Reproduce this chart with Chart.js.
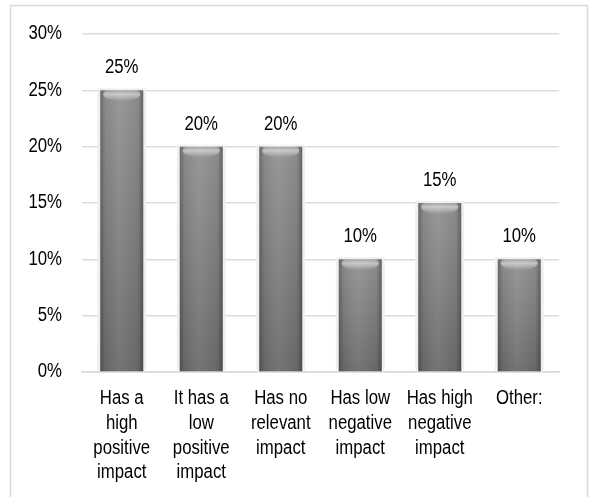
<!DOCTYPE html>
<html>
<head>
<meta charset="utf-8">
<script src="https://cdn.jsdelivr.net/npm/chart.js@4.4.1/dist/chart.umd.min.js"></script>
<style>
  html, body { margin: 0; padding: 0; background: #ffffff; overflow: hidden; }
  #wrap { position: relative; width: 590px; height: 497px; }
  canvas { position: absolute; left: 0; top: 0; }
</style>
</head>
<body>
<div id="wrap"><canvas id="c" width="590" height="497"></canvas></div>
<script>
const categories = [
  ["Has a", "high", "positive", "impact"],
  ["It has a", "low", "positive", "impact"],
  ["Has no", "relevant", "impact"],
  ["Has low", "negative", "impact"],
  ["Has high", "negative", "impact"],
  ["Other:"]
];
const values = [25, 20, 20, 10, 15, 10];
const yTicks = [0, 5, 10, 15, 20, 25, 30];

const FONT = "'Liberation Sans', Arial, sans-serif";
const FS = 19.5;
const SQUEEZE = 0.86;
const LINE_H = 24.7;

function drawText(ctx, text, x, y, align) {
  ctx.save();
  ctx.translate(x, y);
  ctx.scale(SQUEEZE, 1);
  ctx.font = FS + 'px ' + FONT;
  ctx.fillStyle = '#000000';
  ctx.textAlign = align;
  ctx.textBaseline = 'middle';
  ctx.fillText(text, 0, 0);
  ctx.restore();
}

const framePlugin = {
  id: 'frame',
  beforeDraw(chart) {
    const ctx = chart.ctx;
    ctx.save();
    ctx.fillStyle = '#ffffff';
    ctx.fillRect(0, 0, chart.width, chart.height);
    ctx.strokeStyle = '#d9d9d9';
    ctx.lineWidth = 1.5;
    ctx.strokeRect(10.5, 5.5, 577, 600);
    ctx.restore();
  },
  afterDraw(chart) {
    const ctx = chart.ctx;
    const xs = chart.scales.x, ys = chart.scales.y;
    // y tick labels
    ys.ticks.forEach(t => {
      drawText(ctx, t.value + '%', ys.right - 20, ys.getPixelForValue(t.value), 'right');
    });
    // x category labels
    categories.forEach((lines, i) => {
      const x = xs.getPixelForTick(i);
      lines.forEach((ln, j) => {
        drawText(ctx, ln, x, xs.top + 27 + j * LINE_H, 'center');
      });
    });
  }
};

const barStylePlugin = {
  id: 'barStyle',
  beforeDatasetsDraw(chart) {
    const ctx = chart.ctx;
    const meta = chart.getDatasetMeta(0);
    ctx.save();
    meta.data.forEach(el => {
      const p = el.getProps(['x', 'y', 'base', 'width'], true);
      const left = p.x - p.width / 2;
      ctx.fillStyle = '#efefef';
      ctx.fillRect(left - 3, p.y - 2, p.width + 6, p.base - p.y + 1);
    });
    ctx.restore();
  },
  afterDatasetsDraw(chart) {
    const ctx = chart.ctx;
    const meta = chart.getDatasetMeta(0);
    ctx.save();
    meta.data.forEach((el, i) => {
      const p = el.getProps(['x', 'y', 'base', 'width'], true);
      const left = p.x - p.width / 2;
      const right = p.x + p.width / 2;
      const h = p.base - p.y;
      const vg = ctx.createLinearGradient(0, p.y, 0, p.base);
      vg.addColorStop(0, 'rgba(255,255,255,0.14)');
      vg.addColorStop(1, 'rgba(0,0,0,0.16)');
      ctx.fillStyle = vg;
      ctx.fillRect(left, p.y, p.width, h);
      const hg = ctx.createLinearGradient(left, 0, right, 0);
      hg.addColorStop(0, 'rgba(0,0,0,0.28)');
      hg.addColorStop(0.12, 'rgba(0,0,0,0.06)');
      hg.addColorStop(0.45, 'rgba(255,255,255,0.05)');
      hg.addColorStop(0.88, 'rgba(0,0,0,0.06)');
      hg.addColorStop(1, 'rgba(0,0,0,0.32)');
      ctx.fillStyle = hg;
      ctx.fillRect(left, p.y, p.width, h);
      const cg = ctx.createLinearGradient(0, p.y, 0, p.y + 11);
      cg.addColorStop(0, 'rgba(255,255,255,0.15)');
      cg.addColorStop(0.35, 'rgba(255,255,255,0.5)');
      cg.addColorStop(1, 'rgba(255,255,255,0)');
      ctx.fillStyle = cg;
      ctx.beginPath();
      ctx.ellipse(p.x, p.y + 4, p.width / 2 - 3, 7, 0, 0, Math.PI * 2);
      ctx.fill();
      drawText(ctx, values[i] + '%', p.x, p.y - 22.5, 'center');
    });
    ctx.restore();
  }
};

new Chart(document.getElementById('c'), {
  type: 'bar',
  data: {
    labels: categories,
    datasets: [{
      data: values,
      backgroundColor: '#818181',
      borderWidth: 0,
      categoryPercentage: 1,
      barPercentage: 0.54
    }]
  },
  options: {
    responsive: false,
    animation: false,
    devicePixelRatio: 1,
    layout: { padding: { left: 0, right: 31, top: 34, bottom: 0 } },
    plugins: { legend: { display: false }, tooltip: { enabled: false } },
    scales: {
      x: {
        grid: { display: false, drawTicks: false },
        border: { display: true, color: '#d9d9d9', width: 1.5 },
        ticks: { display: false },
        afterFit(scale) { scale.height = 125; }
      },
      y: {
        min: 0,
        max: 30,
        afterBuildTicks(scale) { scale.ticks = yTicks.map(v => ({ value: v })); },
        grid: { color: '#dcdcdc', lineWidth: 1.5, drawTicks: false },
        border: { display: false },
        ticks: { display: false },
        afterFit(scale) { scale.width = 82; }
      }
    }
  },
  plugins: [framePlugin, barStylePlugin]
});
</script>
</body>
</html>
